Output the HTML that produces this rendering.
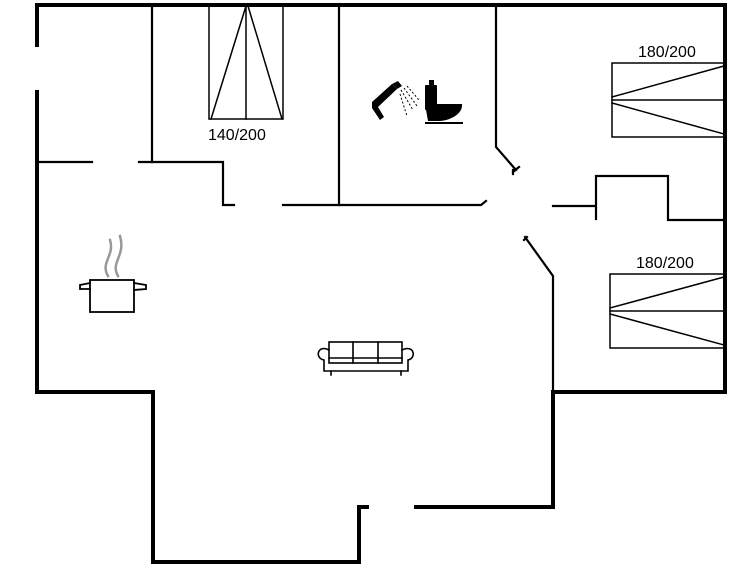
<!DOCTYPE html>
<html><head><style>body{margin:0;background:#fff}svg{display:block}</style></head><body>
<svg width="755" height="566" viewBox="0 0 755 566" xmlns="http://www.w3.org/2000/svg">
<g fill="none" stroke="#000" stroke-linecap="square">
<g stroke-width="4">
<path d="M37,45 V5 H725 V392 H555"/>
<path d="M37,92 V392 H153 V562 H359 V507 H367"/>
<path d="M416,507 H553 V392"/>
</g>
<g stroke-width="2.2">
<path d="M152,5 V162"/>
<path d="M38,162 H92"/>
<path d="M139,162 H223 V205 H234"/>
<path d="M283,205 H481 L486,201"/>
<path d="M339,5 V205"/>
<path d="M496,5 V147 L516,170 M513,172 L519,167 M513,170 V174"/>
<path d="M553,206 H596 M596,176 V219 M596,176 H668 V220 H724"/>
<path d="M527,237 L524,240 M525,237 L553,276 V392"/>
</g>
<g stroke-width="1.5">
<rect x="209" y="6" width="74" height="113"/>
<path d="M246,6 V119 M246,6 L211,119 M248,6 L282,119"/>
<rect x="612" y="63" width="112" height="74"/>
<path d="M612,100 H724 M612,97 L724,66 M612,103 L724,134"/>
<rect x="610" y="274" width="114" height="74"/>
<path d="M610,311 H724 M610,308 L724,277 M610,314 L724,345"/>
</g>
<g stroke-width="1.8">
<rect x="90" y="280" width="44" height="32"/>
<path d="M90,283 L80,285 L80,289 L90,289 M134,283 L146,285 L146,289 L134,290"/>
</g>
<path d="M108,276 C100,262 115,256 110,240 M118,276 C110,262 126,256 120,236" stroke="#999" stroke-width="2.5"/>
<g stroke-width="1.6">
<rect x="329" y="342" width="73" height="21"/>
<path d="M353,342 V363 M378,342 V363 M329,358 H402"/>
<path d="M329,350 C318,344 314,358 324,360 V371 H408 V360 C417,358 414,344 402,350"/>
<path d="M331,371 V375 M401,371 V375"/>
</g>
</g>
<g fill="#000">
<path d="M372,102 L392,84 L397,89 L378,107 L384,117 L380,120 L372,108 Z"/>
<path d="M392,84 L398,81 L402,86 L397,89Z"/>
<rect x="429" y="80" width="5" height="5"/>
<rect x="425" y="85" width="12" height="25" rx="1"/>
<path d="M425,104 H462 C463,113 452,120 440,121 H428 Z"/>
<rect x="425" y="122" width="38" height="2"/>
</g>
<g stroke="#000" stroke-width="1" stroke-dasharray="2,2" fill="none">
<path d="M401,90 L413,110 M404,88 L417,106 M407,86 L419,100 M400,94 L407,116"/>
</g>
<g font-family="Liberation Sans, sans-serif" font-size="16" fill="#000">
<text x="208" y="140">140/200</text>
<text x="638" y="57">180/200</text>
<text x="636" y="268">180/200</text>
</g>
</svg>
</body></html>
